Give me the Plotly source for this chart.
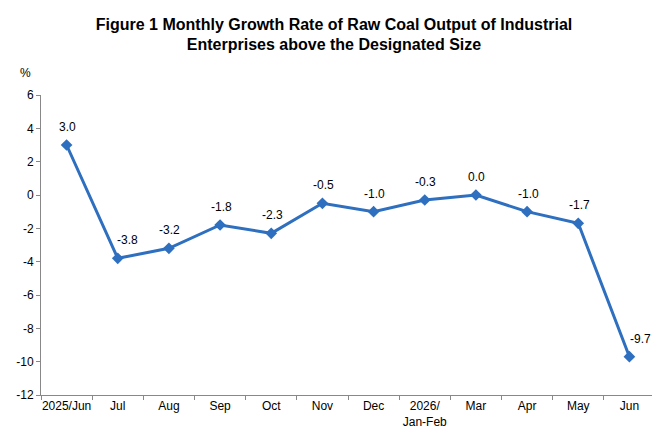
import plotly.graph_objects as go

LINE_BLUE = '#2E6FBF'

months = ['2025/Jun', 'Jul', 'Aug', 'Sep', 'Oct', 'Nov', 'Dec',
          '2026/<br>Jan-Feb', 'Mar', 'Apr', 'May', 'Jun']
growth = [3.0, -3.8, -3.2, -1.8, -2.3, -0.5, -1.0, -0.3, 0.0, -1.0, -1.7, -9.7]
y_ticks = [6, 4, 2, 0, -2, -4, -6, -8, -10, -12]

# labels that sit off-centre in the original (index -> px to the right)
label_nudge = {1: 10, 11: 11}

fig = go.Figure()
fig.add_trace(go.Scatter(
    x=months,
    y=growth,
    mode='lines+markers',
    line=dict(color=LINE_BLUE, width=3),
    marker=dict(symbol='diamond', size=9, color=LINE_BLUE),
    cliponaxis=False,
    showlegend=False
))

notes = []
for i, (m, v) in enumerate(zip(months, growth)):
    notes.append(dict(
        x=m, y=v, text='%.1f' % v, showarrow=False,
        xshift=label_nudge.get(i, 1), yshift=18,
        font=dict(size=12, color='#000000')
    ))
notes.append(dict(
    text='%', xref='paper', yref='paper', x=-0.026, y=1.073,
    xanchor='center', yanchor='middle', showarrow=False,
    font=dict(size=12)
))

# page body has an 8px margin, so the figure is a bit smaller than the window
fig.update_layout(
    width=652, height=432,
    margin=dict(l=33, r=5, t=87, b=45),
    paper_bgcolor='white',
    plot_bgcolor='white',
    font=dict(family='Liberation Sans, Arial, sans-serif', color='#000000'),
    title=dict(
        text='Figure 1 Monthly Growth Rate of Raw Coal Output of Industrial<br>Enterprises above the Designated Size',
        x=0.5, xanchor='center', y=0.95, yanchor='top',
        font=dict(size=16, color='#000000', family='Liberation Sans, Arial, sans-serif', weight='bold')
    ),
    xaxis=dict(
        showline=True, linecolor='#888888', linewidth=1,
        showgrid=False, zeroline=False,
        ticks='outside', ticklen=4, tickcolor='#888888',
        tickson='boundaries', tickangle=0, automargin=False,
        tickfont=dict(size=12),
        range=[-0.5, len(months) - 0.5]
    ),
    yaxis=dict(
        range=[-12, 6],
        tickvals=y_ticks,
        ticktext=[str(t) for t in y_ticks],  # plain hyphen like the original
        showline=True, linecolor='#888888', linewidth=1,
        showgrid=False, zeroline=False, automargin=False,
        ticks='outside', ticklen=4, tickcolor='#888888',
        tickfont=dict(size=12)
    ),
    annotations=notes
)

fig.write_html("out.html")
